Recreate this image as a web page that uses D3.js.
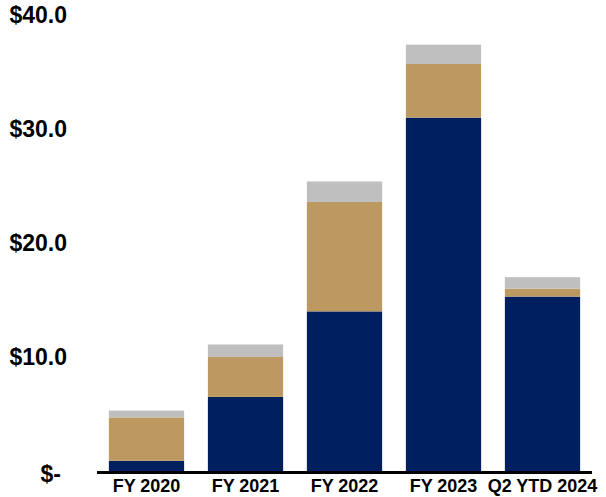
<!DOCTYPE html>
<html>
<head>
<meta charset="utf-8">
<script src="https://cdn.jsdelivr.net/npm/d3@7"></script>
<style>
  html, body { margin: 0; padding: 0; background: #fff; }
  svg { display: block; font-family: "Liberation Sans", Arial, sans-serif; }
</style>
</head>
<body>
<svg id="chart" width="606" height="497"></svg>
<script>
// Categories and stacked series values ($ millions)
const categories = ["FY 2020", "FY 2021", "FY 2022", "FY 2023", "Q2 YTD 2024"];
const navyValues = [0.9, 6.5, 14.0, 31.0, 15.3];
const tanValues  = [3.8, 3.5, 9.6, 4.7, 0.7];
const grayValues = [0.6, 1.1, 1.8, 1.7, 1.0];
const tickValues = [0, 10, 20, 30, 40];
const tickLabels = ["$-", "$10.0", "$20.0", "$30.0", "$40.0"];

const seriesKeys = ["navy", "tan", "gray"];
const colors = { navy: "#001F5F", tan: "#BB9960", gray: "#BFBFBF" };

const rows = categories.map((c, i) => ({
  category: c, navy: navyValues[i], tan: tanValues[i], gray: grayValues[i]
}));

const svg = d3.select("#chart");
const margin = { left: 97, right: 14, top: 15, bottom: 26 };
const width = 606, height = 497;

const x = d3.scaleBand()
  .domain(categories)
  .range([margin.left, width - margin.right])
  .paddingInner(0.24)
  .paddingOuter(0.12);

const y = d3.scaleLinear()
  .domain([0, 40])
  .range([height - margin.bottom, margin.top]);

const stack = d3.stack().keys(seriesKeys);
const layers = stack(rows);

svg.append("g")
  .selectAll("g")
  .data(layers)
  .join("g")
  .attr("fill", d => colors[d.key])
  .selectAll("rect")
  .data(d => d)
  .join("rect")
  .attr("x", d => x(d.data.category))
  .attr("width", x.bandwidth())
  .attr("y", d => y(d[1]))
  .attr("height", d => y(d[0]) - y(d[1]));

// Y axis labels (no axis line or tick marks)
const yAxis = svg.append("g")
  .attr("transform", `translate(67,0)`)
  .call(d3.axisLeft(y).tickValues(tickValues)
    .tickFormat((d, i) => tickLabels[i]).tickSize(0).tickPadding(0));
yAxis.select(".domain").remove();
yAxis.selectAll("text")
  .attr("font-family", "Liberation Sans, Arial, sans-serif")
  .attr("font-size", 23)
  .attr("font-weight", "bold")
  .attr("fill", "#000")
  .attr("dx", d => d === 0 ? -6 : 0)
  .attr("dy", d => d === 0 ? "0.45em" : "0.32em");

// Category axis along the baseline
const xAxis = svg.append("g")
  .attr("transform", `translate(0,${y(0)})`)
  .call(d3.axisBottom(x).tickSize(0).tickPadding(8));
xAxis.select(".domain")
  .attr("stroke", "#000")
  .attr("stroke-width", 3)
  .attr("d", `M${margin.left},1.5H${width - margin.right}`);
xAxis.selectAll("text")
  .attr("font-family", "Liberation Sans, Arial, sans-serif")
  .attr("font-size", 18)
  .attr("font-weight", "bold")
  .attr("fill", "#000");
</script>
</body>
</html>
